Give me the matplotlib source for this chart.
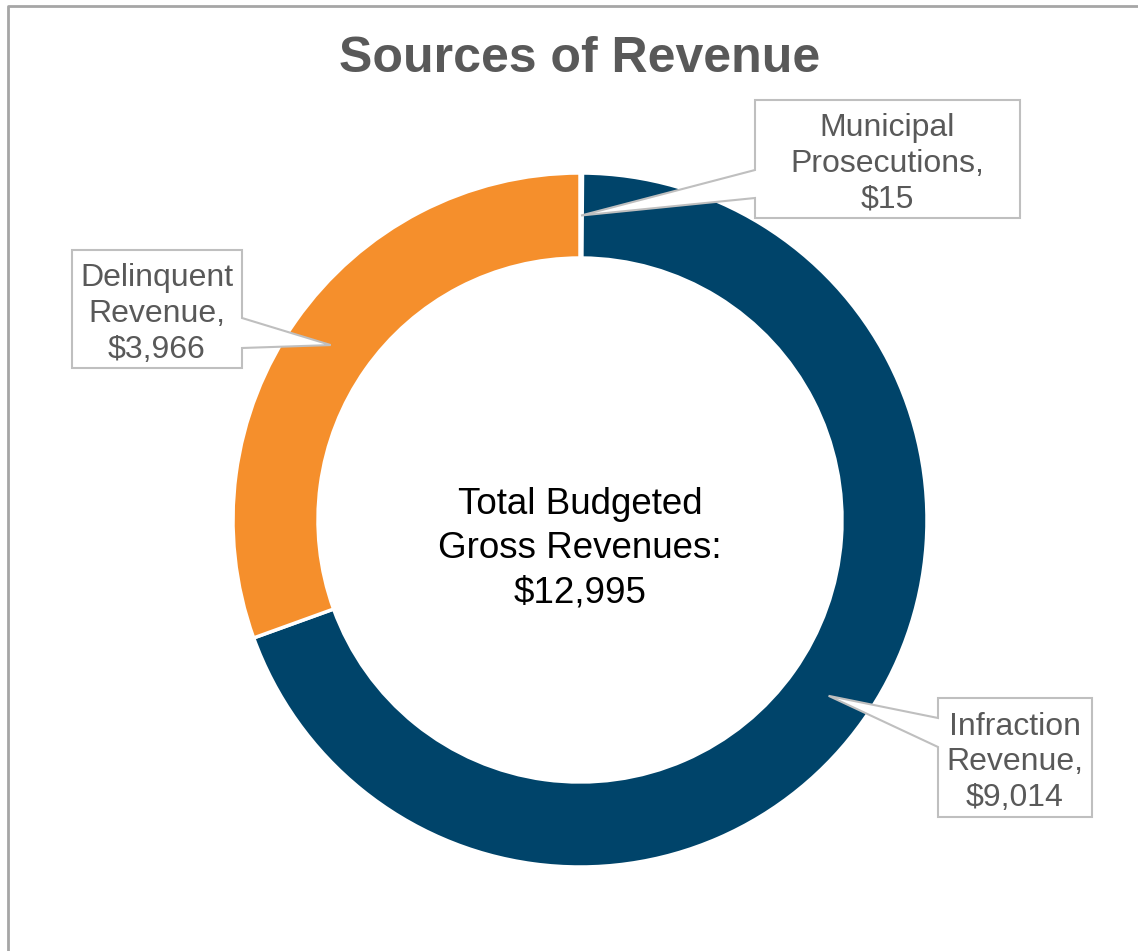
import matplotlib
matplotlib.use("Agg")
import numpy as np
from matplotlib import pyplot as plt
from matplotlib.patches import Polygon

plt.rcParams['font.family'] = ['Liberation Sans', 'DejaVu Sans']

# data
categories = ["Municipal\nProsecutions,", "Infraction\nRevenue,", "Delinquent\nRevenue,"]
values = [15, 9014, 3966]
colors = ["#A5A5A5", "#00446A", "#F58F2C"]
total_label = "Total Budgeted\nGross Revenues:\n$12,995"
title = "Sources of Revenue"

W, H = 1138, 951
cx, cy = 580, H - 520
R_out, ring = 347, 85


def fy(y):
    # pixel row (from top) -> data y
    return H - y


fig = plt.figure(figsize=(W / 100, H / 100), dpi=100)
ax = fig.add_axes([0, 0, 1, 1])

wedges, _ = ax.pie(values, radius=R_out, center=(cx, cy), startangle=90,
                   counterclock=False, colors=colors,
                   wedgeprops=dict(width=ring, edgecolor="white", linewidth=2.5))
ax.set_xlim(0, W)
ax.set_ylim(0, H)
ax.set_aspect("equal")
ax.axis("off")

# outer chart frame (only left and top visible)
ax.plot([8.5, 8.5, W], [0, fy(5.5), fy(5.5)], color="#A6A6A6", lw=2, solid_capstyle="butt")

ax.text(580, fy(59), title, ha="center", va="center", fontsize=36,
        fontweight="bold", color="#595959")
ax.text(580, fy(549), total_label, ha="center", va="center", fontsize=26.5,
        color="black", linespacing=1.34)

# callout boxes: (x0, y0, x1, y1) pixel box, side of pointer, pointer base rows
boxes = [
    ((755, 100, 1020, 218), "left", (170, 198)),
    ((938, 698, 1092, 817), "left", (718, 747)),
    ((72, 250, 242, 368), "right", (318, 348)),
]

r_mid = R_out - ring / 2
for w, lab, v, (box, side, (b0, b1)) in zip(wedges, categories, values, boxes):
    ang = np.deg2rad((w.theta1 + w.theta2) / 2)
    tip = (cx + r_mid * np.cos(ang), cy + r_mid * np.sin(ang))
    x0, y0, x1, y1 = box
    if side == "left":
        pts = [(x0, fy(y0)), (x1, fy(y0)), (x1, fy(y1)), (x0, fy(y1)),
               (x0, fy(b1)), tip, (x0, fy(b0))]
    else:
        pts = [(x0, fy(y0)), (x1, fy(y0)), (x1, fy(b0)), tip,
               (x1, fy(b1)), (x1, fy(y1)), (x0, fy(y1))]
    ax.add_patch(Polygon(pts, closed=True, facecolor="white", edgecolor="#BFBFBF",
                         lw=1.5, zorder=3))
    ax.text((x0 + x1) / 2, fy((y0 + y1) / 2 + 5), f"{lab}\n${v:,}", ha="center",
            va="center", fontsize=23, color="#595959", linespacing=1.26, zorder=4)

fig.savefig("out.png", dpi=100)
